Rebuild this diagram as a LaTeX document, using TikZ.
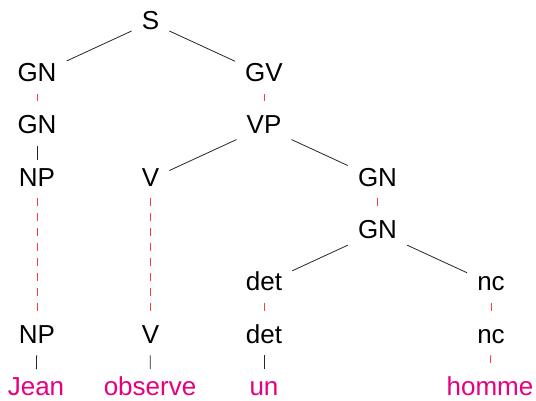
\documentclass[tikz,border=0pt]{standalone}
\usepackage{fontspec}
\setmainfont{Liberation Sans}
\definecolor{wordcol}{RGB}{230,0,126}
\definecolor{dashcol}{RGB}{250,60,70}
\begin{document}
\begin{tikzpicture}[x=1pt,y=-1pt,
  cat/.style={anchor=base,inner xsep=10pt,inner ysep=7.4pt,text height=18.6pt,text depth=4.6pt,
    font=\fontsize{26}{30}\selectfont,text=black},
  word/.style={cat,text=wordcol},
  solidedge/.style={draw=black!85,line width=0.8pt},
  dashedge/.style={draw=dashcol,line width=0.8pt,dash pattern=on 7.5pt off 7.5pt}]
\useasboundingbox (0,0) rectangle (536,401);
% rows (baselines)
\def\ra{29.3}\def\rb{81.6}\def\rc{133.9}\def\rd{186.2}
\def\re{238.5}\def\rf{290.8}\def\rg{343.1}\def\rh{395.4}
\node[cat] (S) at (150.5,\ra) {S};
\node[cat] (GNa) at (37,\rb) {GN};
\node[cat] (GV) at (264,\rb) {GV};
\node[cat] (GNb) at (37,\rc) {GN};
\node[cat] (VP) at (264,\rc) {VP};
\node[cat] (NPa) at (37,\rd) {NP};
\node[cat] (Va) at (150.5,\rd) {V};
\node[cat] (GNc) at (377.5,\rd) {GN};
\node[cat] (GNd) at (377.5,\re) {GN};
\node[cat] (deta) at (264,\rf) {det};
\node[cat] (nca) at (491,\rf) {nc};
\node[cat] (NPb) at (37,\rg) {NP};
\node[cat] (Vb) at (150.5,\rg) {V};
\node[cat] (detb) at (264,\rg) {det};
\node[cat] (ncb) at (491,\rg) {nc};
\node[word] (jean) at (36,\rh) {Jean};
\node[word] (obs) at (150,\rh) {observe};
\node[word] (un) at (264,\rh) {un};
\node[word] (homme) at (490,\rh) {homme};
% solid edges
\draw[solidedge] (S) -- (GNa);
\draw[solidedge] (S) -- (GV);
\draw[solidedge] (GNb) -- (NPa);
\draw[solidedge] (VP) -- (Va);
\draw[solidedge] (VP) -- (GNc);
\draw[solidedge] (GNd) -- (deta);
\draw[solidedge] (GNd) -- (nca);
\draw[solidedge] (NPb) -- (jean);
\draw[solidedge] (Vb) -- (obs);
\draw[solidedge] (detb) -- (un);
% dashed edges
\draw[dashedge] (GNa) -- (GNb);
\draw[dashedge] (GV) -- (VP);
\draw[dashedge] (NPa) -- (NPb);
\draw[dashedge] (Va) -- (Vb);
\draw[dashedge] (GNc) -- (GNd);
\draw[dashedge] (deta) -- (detb);
\draw[dashedge] (nca) -- (ncb);
\draw[dashedge] (ncb) -- (homme);
\end{tikzpicture}
\end{document}
